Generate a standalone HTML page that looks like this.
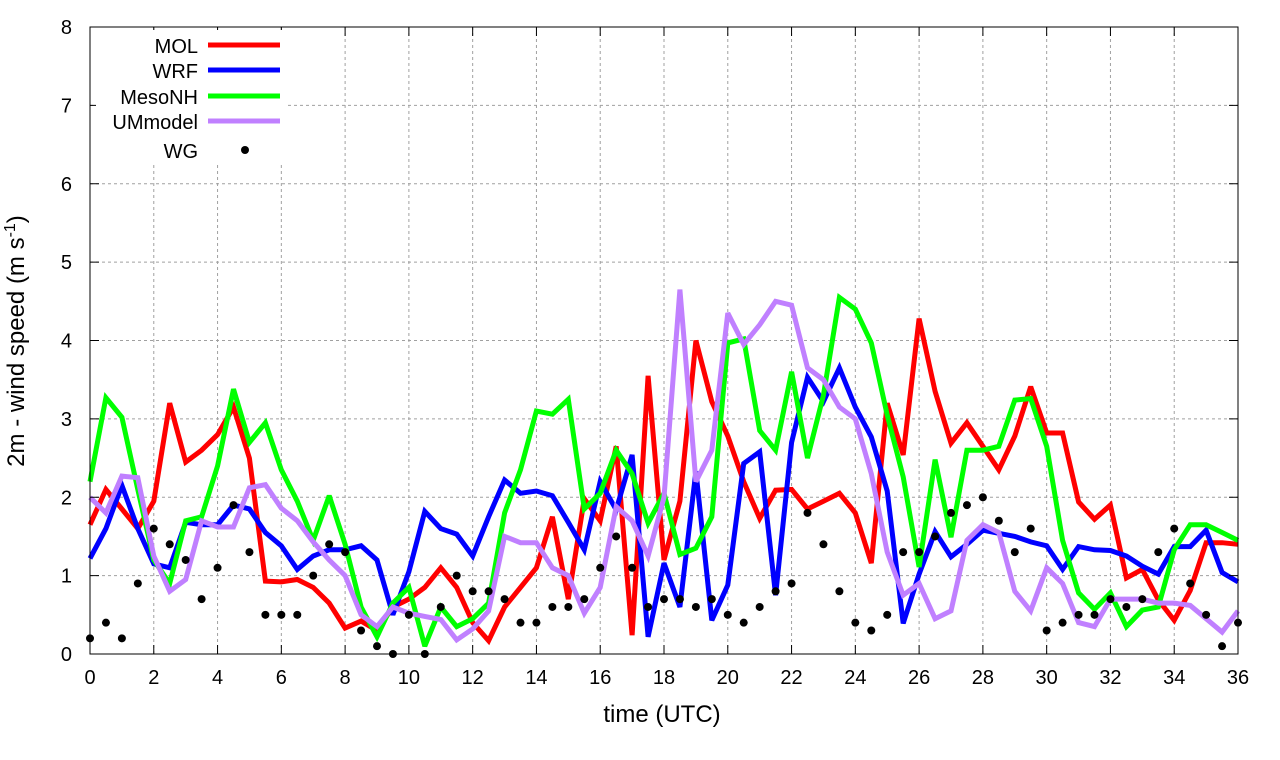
<!DOCTYPE html>
<html><head><meta charset="utf-8"><style>
html,body{margin:0;padding:0;background:#fff;}
svg{display:block;font-family:"Liberation Sans",sans-serif;}
</style></head><body>
<svg id="chart" width="1280" height="760" xmlns="http://www.w3.org/2000/svg">
<rect width="1280" height="760" fill="#fff"/>
<g id="grid"></g>
<g id="series"></g>
<g id="axes"></g>
<g id="legend"></g>
<text x="662" y="722" font-size="24" text-anchor="middle">time (UTC)</text>
<text transform="translate(24,341) rotate(-90)" font-size="24" text-anchor="middle">2m - wind speed  (m s<tspan dy="-9" font-size="16">-1</tspan><tspan dy="9">)</tspan></text>
</svg>
<script>
const xTicks=[0,2,4,6,8,10,12,14,16,18,20,22,24,26,28,30,32,34,36];
const yTicks=[0,1,2,3,4,5,6,7,8];
const times=[];for(let i=0;i<=72;i++)times.push(i/2);
const seriesNames=["MOL","WRF","MesoNH","UMmodel"];
const mol=[1.65,2.1,1.85,1.6,1.95,3.2,2.45,2.6,2.8,3.15,2.5,0.93,0.92,0.95,0.85,0.65,0.33,0.42,0.3,0.6,0.7,0.85,1.1,0.85,0.4,0.17,0.6,0.85,1.1,1.75,0.7,1.98,1.7,2.65,0.24,3.55,1.2,1.95,4.0,3.22,2.78,2.2,1.73,2.09,2.1,1.85,1.95,2.05,1.8,1.16,3.2,2.54,4.28,3.35,2.69,2.95,2.65,2.35,2.78,3.41,2.82,2.82,1.94,1.72,1.9,0.97,1.08,0.69,0.43,0.81,1.42,1.42,1.4];
const wrf=[1.22,1.6,2.15,1.6,1.15,1.1,1.68,1.65,1.65,1.9,1.85,1.55,1.38,1.08,1.25,1.33,1.33,1.38,1.2,0.5,1.05,1.82,1.6,1.53,1.25,1.75,2.22,2.05,2.08,2.02,1.68,1.33,2.2,1.84,2.54,0.22,1.16,0.6,2.33,0.43,0.88,2.43,2.58,0.75,2.7,3.53,3.22,3.65,3.15,2.77,2.08,0.39,1.02,1.56,1.24,1.4,1.58,1.54,1.5,1.43,1.38,1.08,1.37,1.33,1.32,1.25,1.12,1.02,1.37,1.37,1.58,1.04,0.92];
const mesonh=[2.2,3.27,3.02,2.1,1.2,0.9,1.7,1.75,2.4,3.38,2.7,2.95,2.35,1.95,1.45,2.02,1.4,0.6,0.22,0.65,0.85,0.1,0.6,0.35,0.45,0.65,1.8,2.35,3.1,3.06,3.25,1.85,2.05,2.6,2.3,1.67,2.05,1.27,1.35,1.75,3.97,4.02,2.85,2.6,3.6,2.5,3.3,4.55,4.4,3.97,3.05,2.26,1.11,2.48,1.49,2.6,2.6,2.65,3.24,3.26,2.65,1.45,0.78,0.57,0.78,0.35,0.56,0.6,1.33,1.65,1.65,1.55,1.45];
const ummodel=[2.0,1.8,2.27,2.25,1.25,0.8,0.95,1.7,1.62,1.62,2.12,2.16,1.86,1.7,1.43,1.2,1.0,0.5,0.35,0.6,0.52,0.48,0.44,0.18,0.32,0.55,1.5,1.42,1.42,1.1,1.0,0.52,0.85,1.88,1.7,1.25,2.0,4.65,2.2,2.6,4.35,3.95,4.2,4.5,4.45,3.65,3.5,3.15,3.0,2.3,1.3,0.75,0.9,0.45,0.55,1.45,1.65,1.55,0.8,0.55,1.1,0.9,0.4,0.35,0.7,0.7,0.7,0.65,0.65,0.62,0.45,0.28,0.55];
const wg=[0.2,0.4,0.2,0.9,1.6,1.4,1.2,0.7,1.1,1.9,1.3,0.5,0.5,0.5,1.0,1.4,1.3,0.3,0.1,0.0,0.5,0.0,0.6,1.0,0.8,0.8,0.7,0.4,0.4,0.6,0.6,0.7,1.1,1.5,1.1,0.6,0.7,0.7,0.6,0.7,0.5,0.4,0.6,0.8,0.9,1.8,1.4,0.8,0.4,0.3,0.5,1.3,1.3,1.5,1.8,1.9,2.0,1.7,1.3,1.6,0.3,0.4,0.5,0.5,0.7,0.6,0.7,1.3,1.6,0.9,0.5,0.1,0.4];

const NS="http://www.w3.org/2000/svg";
const L=90,R=1238,T=27,B=654;
const X=v=>L+(v-0)/(36-0)*(R-L);
const Y=v=>B-(v-0)/(8-0)*(B-T);
function mk(tag,attrs,parent){const e=document.createElementNS(NS,tag);for(const k in attrs)e.setAttribute(k,attrs[k]);parent.appendChild(e);return e;}
const grid=document.getElementById('grid'),axes=document.getElementById('axes'),ser=document.getElementById('series'),leg=document.getElementById('legend');
xTicks.forEach(t=>{
  if(t>0&&t<36){const g=mk('line',{x1:X(t),x2:X(t),y1:T,y2:B,stroke:'#a0a0a0','stroke-width':1,'stroke-dasharray':'3,3'},grid);
  
  }
  const tk=mk('line',{x1:X(t),x2:X(t),y1:B,y2:B-9,stroke:'#000','stroke-width':1},axes);
  
  
  const tk2=mk('line',{x1:X(t),x2:X(t),y1:T,y2:T+9,stroke:'#000','stroke-width':1},axes);
  
  
  const lb=mk('text',{x:X(t),y:B+30,'font-size':20,'text-anchor':'middle'},axes);lb.textContent=t;
  
  
});
yTicks.forEach(t=>{
  if(t>0&&t<8){const g=mk('line',{x1:L,x2:R,y1:Y(t),y2:Y(t),stroke:'#a0a0a0','stroke-width':1,'stroke-dasharray':'3,3'},grid);
  
  }
  const tk=mk('line',{x1:L,x2:L+9,y1:Y(t),y2:Y(t),stroke:'#000','stroke-width':1},axes);
  
  
  const tk2=mk('line',{x1:R,x2:R-9,y1:Y(t),y2:Y(t),stroke:'#000','stroke-width':1},axes);
  
  
  const lb=mk('text',{x:L-18,y:Y(t)+7,'font-size':20,'text-anchor':'end'},axes);lb.textContent=t;
  
  
});
const frame=mk('rect',{x:L,y:T,width:R-L,height:B-T,fill:'none',stroke:'#000','stroke-width':1},axes);



// legend background
const lbg=mk('rect',{x:96,y:30,width:190,height:132,fill:'#fff'},leg);



const colors=['#ff0000','#0000ff','#00ff00','#c080ff'];
const datas=[mol,wrf,mesonh,ummodel];
datas.forEach((d,si)=>{
  const pts=d.map((v,i)=>X(times[i]).toFixed(1)+','+Y(v).toFixed(1)).join(' ');
  const pl=mk('polyline',{points:pts,fill:'none',stroke:colors[si],'stroke-width':5,'stroke-linejoin':'miter','stroke-miterlimit':3},ser);
  
  
});
wg.forEach((v,i)=>{
  const c=mk('circle',{cx:X(times[i]),cy:Y(v),r:4,fill:'#000'},ser);
  
  
});
const legY=[45,70,96,121];
seriesNames.forEach((n,i)=>{
  const t=mk('text',{x:198,y:legY[i]+8,'font-size':20,'text-anchor':'end'},leg);t.textContent=n;
  
  
  const l=mk('line',{x1:208,x2:280,y1:legY[i],y2:legY[i],stroke:colors[i],'stroke-width':5},leg);
  
  
});
const wt=mk('text',{x:198,y:158,'font-size':20,'text-anchor':'end'},leg);wt.textContent='WG';


const wd=mk('circle',{cx:245,cy:150,r:4,fill:'#000'},leg);


</script>
</body></html>
